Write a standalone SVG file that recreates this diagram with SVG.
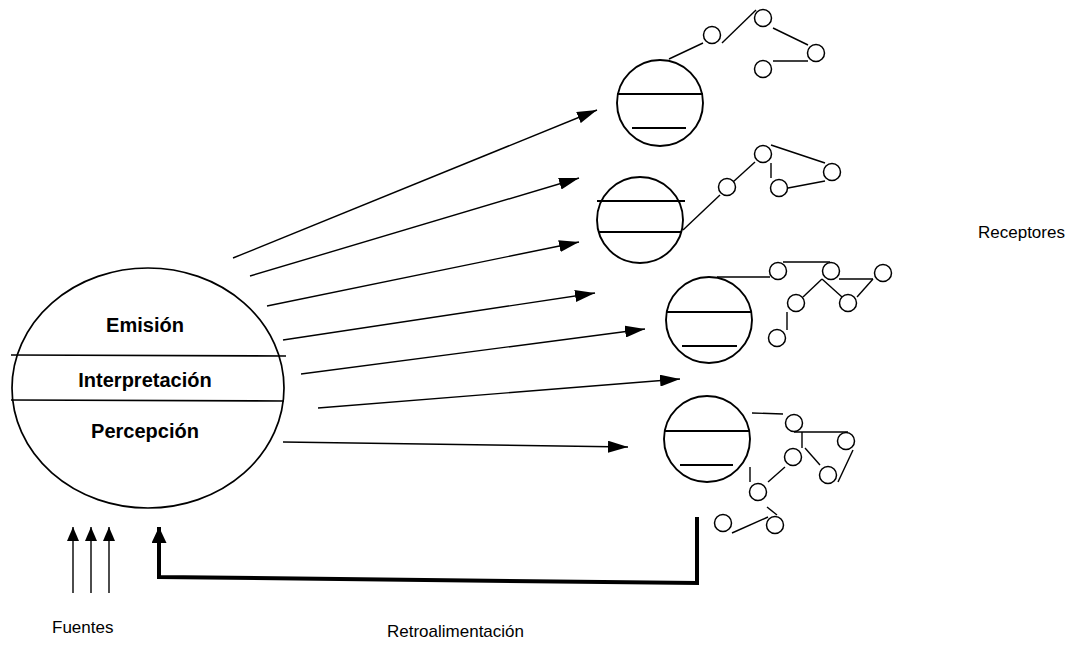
<svg xmlns="http://www.w3.org/2000/svg" width="1090" height="654" viewBox="0 0 1090 654">
  <style>
    .ln { stroke: #000; stroke-width: 1.4; fill: none; }
    .rim { stroke: #000; stroke-width: 1.7; fill: none; }
    .bd { stroke: #000; stroke-width: 1.9; fill: none; }
    .dot { stroke: #000; stroke-width: 1.5; fill: #fff; }
    .thick { stroke: #000; stroke-width: 4; fill: none; }
    .lbl { font-family: "Liberation Sans", Arial, sans-serif; font-size: 20px; font-weight: bold; text-anchor: middle; fill: #000; }
    .cap { font-family: "Liberation Sans", Arial, sans-serif; font-size: 17px; fill: #000; }
  </style>
  <defs>
    <marker id="ah" viewBox="0 0 20 12" refX="20" refY="6" markerWidth="20" markerHeight="12" markerUnits="userSpaceOnUse" orient="auto">
      <path d="M0,0 L20,6 L0,12 Z" fill="#000"/>
    </marker>
    <marker id="ahUp" viewBox="0 0 14 12" refX="14" refY="6" markerWidth="14" markerHeight="12" markerUnits="userSpaceOnUse" orient="auto">
      <path d="M0,0 L14,6 L0,12 Z" fill="#000"/>
    </marker>
    <marker id="ahFb" viewBox="0 0 16 15" refX="16" refY="7.5" markerWidth="16" markerHeight="15" markerUnits="userSpaceOnUse" orient="auto">
      <path d="M0,0 L16,7.5 L0,15 Z" fill="#000"/>
    </marker>
  </defs>
  <rect width="1090" height="654" fill="#fff"/>

  <!-- Source: emitter with its three layers -->
  <g id="fuente">
    <ellipse class="rim" cx="148" cy="388" rx="136" ry="120"/>
    <line class="rim" x1="11" y1="355" x2="286" y2="356"/>
    <line class="rim" x1="11" y1="400" x2="284" y2="401"/>
    <text class="lbl" x="145" y="332">Emisión</text>
    <text class="lbl" x="145" y="387">Interpretación</text>
    <text class="lbl" x="145" y="438">Percepción</text>
  </g>

  <!-- Receiver 1 -->
  <g id="receptor1">
    <circle class="bd" cx="660" cy="103" r="43"/>
    <line class="bd" x1="617" y1="94" x2="703" y2="94"/>
    <line class="bd" x1="632" y1="128" x2="686" y2="128"/>
    <line class="ln" x1="669" y1="59" x2="703" y2="43"/>
    <line class="ln" x1="722" y1="43" x2="756" y2="10"/>
    <line class="ln" x1="773" y1="28" x2="808" y2="45"/>
    <line class="ln" x1="808" y1="61" x2="773" y2="61"/>
    <circle class="dot" cx="712" cy="35" r="8.5"/>
    <circle class="dot" cx="763" cy="18" r="8.5"/>
    <circle class="dot" cx="816" cy="53" r="8.5"/>
    <circle class="dot" cx="763" cy="69" r="8.5"/>
  </g>

  <!-- Receiver 2 -->
  <g id="receptor2">
    <circle class="bd" cx="640" cy="220" r="43"/>
    <line class="bd" x1="597" y1="201" x2="685" y2="201"/>
    <line class="bd" x1="598" y1="232" x2="682" y2="232"/>
    <line class="ln" x1="683" y1="230" x2="720" y2="195"/>
    <line class="ln" x1="733" y1="182" x2="755" y2="162"/>
    <line class="ln" x1="771" y1="145" x2="825" y2="163"/>
    <line class="ln" x1="825" y1="181" x2="788" y2="188"/>
    <line class="ln" x1="771" y1="163" x2="771" y2="178"/>
    <circle class="dot" cx="727" cy="187" r="8.5"/>
    <circle class="dot" cx="763" cy="154" r="8.5"/>
    <circle class="dot" cx="832" cy="172" r="8.5"/>
    <circle class="dot" cx="779" cy="188" r="8.5"/>
  </g>

  <!-- Receiver 3 -->
  <g id="receptor3">
    <circle class="bd" cx="709" cy="320" r="43"/>
    <line class="bd" x1="666" y1="312" x2="752" y2="312"/>
    <line class="bd" x1="682" y1="346" x2="737" y2="346"/>
    <line class="ln" x1="717" y1="277" x2="770" y2="277"/>
    <line class="ln" x1="783" y1="262" x2="830" y2="262"/>
    <line class="ln" x1="839" y1="279" x2="873" y2="279"/>
    <line class="ln" x1="873" y1="279" x2="857" y2="297"/>
    <line class="ln" x1="842" y1="297" x2="822" y2="279"/>
    <line class="ln" x1="822" y1="279" x2="803" y2="297"/>
    <line class="ln" x1="787" y1="312" x2="787" y2="330"/>
    <circle class="dot" cx="778" cy="271" r="8.5"/>
    <circle class="dot" cx="831" cy="271" r="8.5"/>
    <circle class="dot" cx="883" cy="273" r="8.5"/>
    <circle class="dot" cx="848" cy="303" r="8.5"/>
    <circle class="dot" cx="796" cy="303" r="8.5"/>
    <circle class="dot" cx="777" cy="338" r="8.5"/>
  </g>

  <!-- Receiver 4 -->
  <g id="receptor4">
    <circle class="bd" cx="707" cy="439" r="43"/>
    <line class="bd" x1="665" y1="431" x2="750" y2="431"/>
    <line class="bd" x1="680" y1="465" x2="733" y2="465"/>
    <line class="ln" x1="752" y1="413" x2="783" y2="414"/>
    <line class="ln" x1="794" y1="432" x2="848" y2="432"/>
    <line class="ln" x1="802" y1="432" x2="802" y2="448"/>
    <line class="ln" x1="805" y1="448" x2="820" y2="465"/>
    <line class="ln" x1="853" y1="450" x2="838" y2="482"/>
    <line class="ln" x1="785" y1="467" x2="768" y2="482"/>
    <line class="ln" x1="750" y1="467" x2="750" y2="482"/>
    <line class="ln" x1="767" y1="507" x2="777" y2="515"/>
    <line class="ln" x1="768" y1="517" x2="732" y2="533"/>
    <circle class="dot" cx="794" cy="423" r="8.5"/>
    <circle class="dot" cx="846" cy="441" r="8.5"/>
    <circle class="dot" cx="828" cy="475" r="8.5"/>
    <circle class="dot" cx="793" cy="457" r="8.5"/>
    <circle class="dot" cx="758" cy="492" r="8.5"/>
    <circle class="dot" cx="775" cy="525" r="8.5"/>
    <circle class="dot" cx="723" cy="523" r="8.5"/>
  </g>

  <!-- Messages, sources and feedback loop -->
  <g id="conectores">
    <line class="ln" x1="233" y1="258" x2="597" y2="110" marker-end="url(#ah)"/>
    <line class="ln" x1="250" y1="276" x2="579" y2="178" marker-end="url(#ah)"/>
    <line class="ln" x1="267" y1="306" x2="579" y2="242" marker-end="url(#ah)"/>
    <line class="ln" x1="283" y1="340" x2="595" y2="293" marker-end="url(#ah)"/>
    <line class="ln" x1="301" y1="374" x2="645" y2="329" marker-end="url(#ah)"/>
    <line class="ln" x1="318" y1="408" x2="680" y2="379" marker-end="url(#ah)"/>
    <line class="ln" x1="283" y1="442" x2="628" y2="447" marker-end="url(#ah)"/>

    <line class="ln" x1="73" y1="593" x2="73" y2="527" marker-end="url(#ahUp)"/>
    <line class="ln" x1="91" y1="593" x2="91" y2="527" marker-end="url(#ahUp)"/>
    <line class="ln" x1="109" y1="593" x2="109" y2="527" marker-end="url(#ahUp)"/>

    <polyline class="thick" points="697,517 697,583 159,577 159,527" stroke-linejoin="miter" marker-end="url(#ahFb)"/>
  </g>

  <text class="cap" x="52" y="633">Fuentes</text>
  <text class="cap" x="387" y="637">Retroalimentación</text>
  <text class="cap" x="978" y="238">Receptores</text>
</svg>
